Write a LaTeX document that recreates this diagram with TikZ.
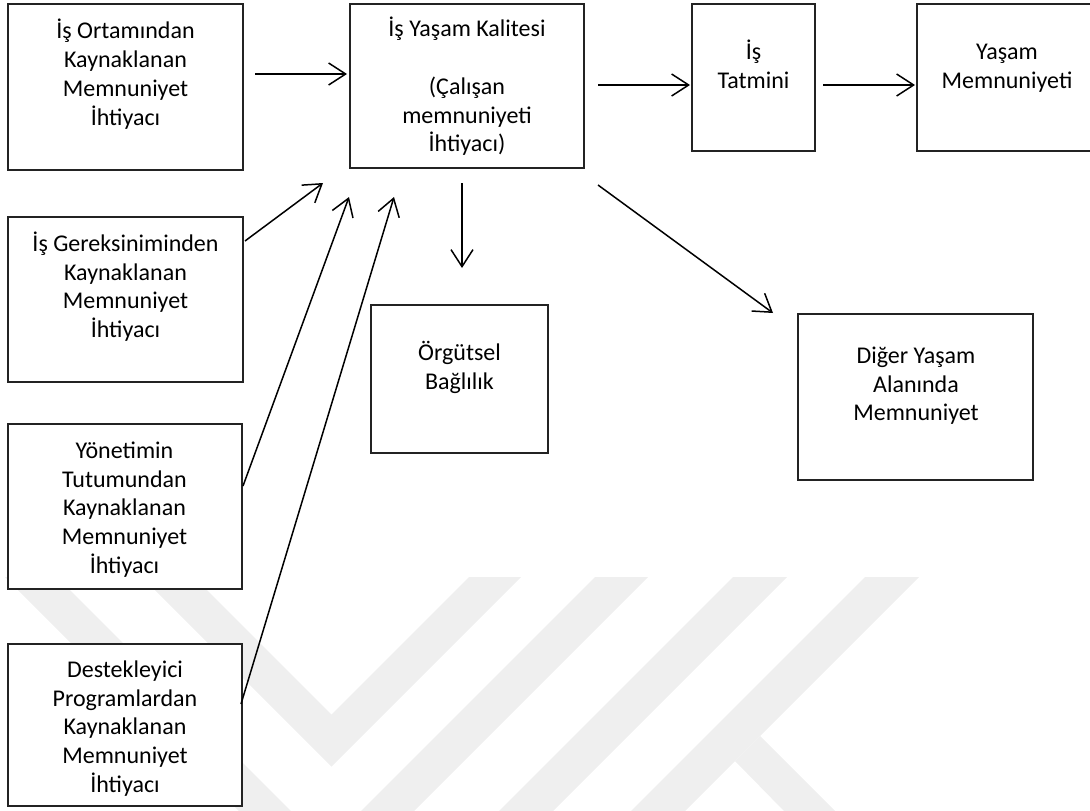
\documentclass[tikz,border=0pt]{standalone}
\usepackage{fontspec}
\setmainfont{Carlito}
\usetikzlibrary{arrows.meta}
\definecolor{wmgray}{RGB}{239,239,239}
\definecolor{boxline}{RGB}{35,35,35}
\begin{document}
\begin{tikzpicture}[x=1pt,y=-1pt,
  box/.style={draw=boxline, line width=1.2pt, fill=white, inner sep=0pt, outer sep=0pt},
  boxtext/.style={inner sep=0pt, align=center, anchor=north,
    font=\fontsize{24}{28.8}\selectfont},
  link/.style={line width=1.5pt, -{Straight Barb[length=17pt,width=22pt]}},
  wm/.style={fill=wmgray, draw=none}
]
\useasboundingbox (0,0) rectangle (1090,811);
\clip (0,0) rectangle (1090,811);

% faint background emblem (diagonal bands)
\fill[wm] (5,577) -- (57,577) -- (291,811) -- (239,811) -- cycle;
\fill[wm] (142,577) -- (194,577) -- (331.5,714.5) -- (469,577) -- (521,577)
  -- (331.5,766.5) -- cycle;
\fill[wm] (595,577) -- (648,577) -- (414,811) -- (361,811) -- cycle;
\fill[wm] (733,577) -- (787,577) -- (553,811) -- (499,811) -- cycle;
\fill[wm] (865,577) -- (919,577) -- (685,811) -- (631,811) -- cycle;
\fill[wm] (760,736) -- (835,811) -- (784,811) -- (735,761) -- cycle;

% boxes
\node[box, minimum width=235pt, minimum height=166pt] (ortam)   at (125.5,87) {};
\node[box, minimum width=234pt, minimum height=164pt] (kalite)  at (467,86) {};
\node[box, minimum width=123pt, minimum height=147pt] (tatmin)  at (753.5,77.5) {};
\node[box, minimum width=183pt, minimum height=147pt] (yasam)   at (1008.5,77.5) {};
\node[box, minimum width=235pt, minimum height=165pt] (gerek)   at (125.5,299.5) {};
\node[box, minimum width=234pt, minimum height=165pt] (yonetim) at (125,506.5) {};
\node[box, minimum width=234pt, minimum height=162pt] (destek)  at (125,725) {};
\node[box, minimum width=177pt, minimum height=148pt] (orgut)   at (459.5,379) {};
\node[box, minimum width=235pt, minimum height=166pt] (diger)   at (915.5,397) {};

% box texts
\node[boxtext] (ortamT) at (125.5,18.34)
  {\strut İş Ortamından\\Kaynaklanan\\Memnuniyet\\İhtiyacı};
\node[boxtext] (kaliteT) at (467,16.34)
  {\strut İş Yaşam Kalitesi\\[28.8pt](Çalışan\\memnuniyeti\\İhtiyacı)};
\node[boxtext] (tatminT) at (753.5,38.84) {\strut İş\\Tatmini};
\node[boxtext] (yasamT) at (1007,38.84) {\strut Yaşam\\Memnuniyeti};
\node[boxtext] (gerekT) at (125.5,230.84)
  {\strut İş Gereksiniminden\\Kaynaklanan\\Memnuniyet\\İhtiyacı};
\node[boxtext] (yonetimT) at (124.5,437.84)
  {\strut Yönetimin\\Tutumundan\\Kaynaklanan\\Memnuniyet\\İhtiyacı};
\node[boxtext] (destekT) at (125,656.84)
  {\strut Destekleyici\\Programlardan\\Kaynaklanan\\Memnuniyet\\İhtiyacı};
\node[boxtext] (orgutT) at (459.5,339.84) {\strut Örgütsel\\Bağlılık};
\node[boxtext] (digerT) at (916,342.84) {\strut Diğer Yaşam\\Alanında\\Memnuniyet};

% connector end points
\coordinate (ortamOut)   at (255,74);
\coordinate (kaliteInL)  at (347,74);
\coordinate (kaliteOutR) at (598,85);
\coordinate (tatminIn)   at (690,85);
\coordinate (tatminOut)  at (823,85);
\coordinate (yasamIn)    at (915,85);
\coordinate (gerekOut)   at (245,241);
\coordinate (kaliteInA)  at (323,183);
\coordinate (yonetimOut) at (243,486);
\coordinate (kaliteInB)  at (349,197);
\coordinate (destekOut)  at (241,704);
\coordinate (kaliteInC)  at (394,197);
\coordinate (kaliteOutD) at (462,183);
\coordinate (orgutIn)    at (462,268);
\coordinate (kaliteOutE) at (598,185);
\coordinate (digerIn)    at (773,313);

% connectors
\draw[link] (ortamOut) -- (kaliteInL);
\draw[link] (kaliteOutR) -- (tatminIn);
\draw[link] (tatminOut) -- (yasamIn);
\draw[link] (gerekOut) -- (kaliteInA);
\draw[link] (yonetimOut) -- (kaliteInB);
\draw[link] (destekOut) -- (kaliteInC);
\draw[link] (kaliteOutD) -- (orgutIn);
\draw[link] (kaliteOutE) -- (digerIn);
\end{tikzpicture}
\end{document}
